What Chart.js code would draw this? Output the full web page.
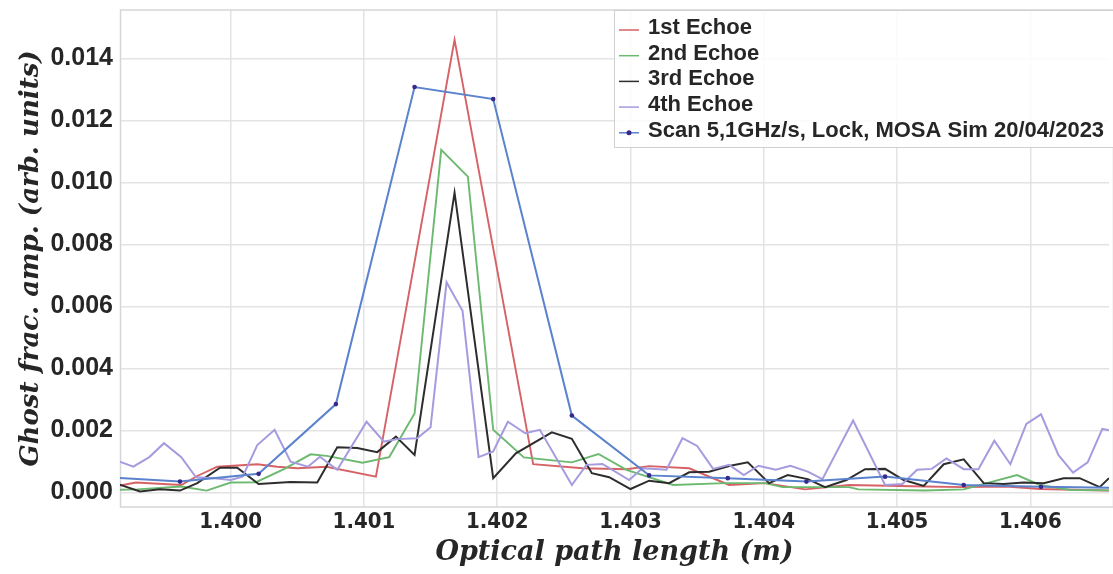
<!DOCTYPE html>
<html>
<head>
<meta charset="utf-8">
<script src="https://cdn.jsdelivr.net/npm/chart.js@4.4.1/dist/chart.umd.min.js"></script>
<style>
html,body{margin:0;padding:0;background:#fff}
#wrap{width:1113px;height:574px}
</style>
</head>
<body>
<div id="wrap"><canvas id="ghostChart" width="1113" height="574"></canvas></div>
<script>
// optical path length (m) / ghost amplitude
const echo1X=[1.39910,1.39929,1.39963,1.39975,1.39990,1.40020,1.40035,1.40050,1.40072,1.40109,1.40168,1.40227,1.40264,1.40297,1.40314,1.40344,1.40374,1.40401,1.40431,1.40464,1.40521,1.40550,1.40582,1.40607,1.40657,1.40670]
const echo1Y=[0.00017,0.00032,0.00024,0.00053,0.00083,0.00091,0.00083,0.00078,0.00083,0.00051,0.01460,0.00091,0.00078,0.00075,0.00085,0.00078,0.00024,0.00030,0.00010,0.00024,0.00019,0.00017,0.00019,0.00011,0.00006,0.00005]

const echo2X=[1.39910,1.39930,1.39963,1.39982,1.40000,1.40019,1.40040,1.40060,1.40072,1.40099,1.40119,1.40138,1.40158,1.40178,1.40197,1.40220,1.40256,1.40276,1.40297,1.40332,1.40371,1.40401,1.40414,1.40464,1.40471,1.40521,1.40550,1.40590,1.40607,1.40630,1.40670]
const echo2Y=[0.00008,0.00010,0.00019,0.00006,0.00032,0.00033,0.00075,0.00123,0.00118,0.00096,0.00114,0.00255,0.01105,0.01019,0.00202,0.00113,0.00097,0.00124,0.00073,0.00024,0.00030,0.00030,0.00017,0.00017,0.00010,0.00006,0.00010,0.00056,0.00024,0.00008,0.00006]

const echo3X=[1.39910,1.39932,1.39947,1.39962,1.39975,1.39992,1.40005,1.40021,1.40045,1.40065,1.40080,1.40095,1.40110,1.40124,1.40138,1.40168,1.40197,1.40214,1.40241,1.40256,1.40271,1.40284,1.40300,1.40314,1.40329,1.40344,1.40359,1.40374,1.40388,1.40404,1.40418,1.40433,1.40446,1.40462,1.40476,1.40491,1.40505,1.40520,1.40535,1.40550,1.40565,1.40580,1.40595,1.40610,1.40625,1.40637,1.40652,1.40659]
const echo3Y=[0.00035,0.00003,0.00010,0.00006,0.00030,0.00080,0.00080,0.00027,0.00034,0.00032,0.00146,0.00143,0.00130,0.00180,0.00121,0.00967,0.00046,0.00126,0.00194,0.00173,0.00062,0.00049,0.00011,0.00038,0.00030,0.00065,0.00067,0.00085,0.00097,0.00030,0.00056,0.00043,0.00017,0.00040,0.00075,0.00076,0.00040,0.00021,0.00091,0.00107,0.00030,0.00027,0.00032,0.00030,0.00046,0.00046,0.00017,0.00046]

const echo4X=[1.39910,1.39927,1.39939,1.39950,1.39963,1.39974,1.39988,1.40000,1.40009,1.40020,1.40033,1.40045,1.40058,1.40067,1.40080,1.40102,1.40115,1.40125,1.40140,1.40150,1.40162,1.40174,1.40186,1.40197,1.40208,1.40221,1.40232,1.40256,1.40267,1.40279,1.40299,1.40309,1.40327,1.40339,1.40350,1.40362,1.40374,1.40385,1.40396,1.40409,1.40420,1.40433,1.40444,1.40467,1.40491,1.40504,1.40515,1.40526,1.40537,1.40550,1.40561,1.40573,1.40585,1.40597,1.40608,1.40621,1.40632,1.40643,1.40654,1.40666]
const echo4Y=[0.00110,0.00083,0.00114,0.00159,0.00114,0.00049,0.00046,0.00040,0.00051,0.00153,0.00202,0.00099,0.00083,0.00115,0.00073,0.00228,0.00164,0.00172,0.00175,0.00210,0.00678,0.00586,0.00114,0.00132,0.00228,0.00191,0.00202,0.00024,0.00089,0.00092,0.00040,0.00078,0.00073,0.00175,0.00150,0.00076,0.00089,0.00056,0.00086,0.00073,0.00086,0.00067,0.00043,0.00232,0.00024,0.00027,0.00073,0.00076,0.00110,0.00075,0.00075,0.00167,0.00091,0.00221,0.00252,0.00121,0.00064,0.00097,0.00205,0.00195]

const scanX=[1.39903,1.39962,1.40021,1.40079,1.40138,1.40197,1.40256,1.40314,1.40373,1.40432,1.40491,1.40550,1.40608,1.40667]
const scanY=[0.00050,0.00035,0.00060,0.00285,0.01308,0.01269,0.00248,0.00055,0.00046,0.00035,0.00051,0.00024,0.00018,0.00015]

const seriesLabels=['1st Echoe','2nd Echoe','3rd Echoe','4th Echoe','Scan 5,1GHz/s, Lock, MOSA Sim 20/04/2023']
const xTicks=[1.400,1.401,1.402,1.403,1.404,1.405,1.406]
const yTicks=[0,0.002,0.004,0.006,0.008,0.010,0.012,0.014]

function pts(xs,ys){ return xs.map((x,i)=>({x:x,y:ys[i]})) }

// frame round the plot + legend box in the top right corner
const framePlugin={
 id:'frame',
 beforeDatasetsDraw(chart){
  const a=chart.chartArea, c=chart.ctx
  c.save()
  c.strokeStyle='#d6d6d6'; c.lineWidth=1.5
  c.strokeRect(a.left+0.5,a.top,a.right-a.left+4,a.bottom-a.top)
  c.restore()
 },
 afterDraw(chart){
  const c=chart.ctx
  const bx=614, by=10, rowH=25.7
  c.save()
  c.fillStyle='rgba(255,255,255,0.85)'
  c.strokeStyle='#d0d0d0'; c.lineWidth=1
  c.fillRect(bx,by,520,138)
  c.strokeRect(bx+0.5,by+0.5,520,137)
  c.font='bold 22px "Liberation Sans", Arial, sans-serif'
  c.textBaseline='middle'
  chart.data.datasets.forEach((ds,i)=>{
   const y=by+18+i*rowH
   c.strokeStyle=ds.borderColor; c.lineWidth=1.5
   c.beginPath(); c.moveTo(bx+5,y+2); c.lineTo(bx+25,y+2); c.stroke()
   if(ds.pointRadius>0){
    c.fillStyle=ds.pointBackgroundColor
    c.beginPath(); c.arc(bx+15,y+2,2.5,0,Math.PI*2); c.fill()
   }
   c.fillStyle='#262626'
   c.fillText(ds.label,bx+34,y)
  })
  c.restore()
 }
}

const ctx=document.getElementById('ghostChart')
new Chart(ctx,{
 type:'scatter',
 data:{
  datasets:[
   {label:seriesLabels[0],data:pts(echo1X,echo1Y),borderColor:'rgb(214,98,102)',borderWidth:1.9,showLine:true,pointRadius:0,order:5},
   {label:seriesLabels[1],data:pts(echo2X,echo2Y),borderColor:'rgb(108,185,112)',borderWidth:1.9,showLine:true,pointRadius:0,order:4},
   {label:seriesLabels[2],data:pts(echo3X,echo3Y),borderColor:'rgb(45,45,45)',borderWidth:2,showLine:true,pointRadius:0,order:3},
   {label:seriesLabels[3],data:pts(echo4X,echo4Y),borderColor:'rgb(165,155,222)',borderWidth:2,showLine:true,pointRadius:0,order:2},
   {label:seriesLabels[4],data:pts(scanX,scanY),borderColor:'rgb(90,130,205)',borderWidth:2,showLine:true,pointRadius:2.3,pointBackgroundColor:'rgb(55,40,140)',pointBorderWidth:0,order:1}
  ]
 },
 plugins:[framePlugin],
 options:{
  responsive:false,
  animation:false,
  devicePixelRatio:1,
  layout:{padding:{top:10,right:0,left:0,bottom:0}},
  plugins:{legend:{display:false},tooltip:{enabled:false}},
  scales:{
   x:{
    type:'linear',min:1.39917,max:1.40659,
    afterBuildTicks(s){ s.ticks=xTicks.map(v=>({value:v})) },
    afterFit(s){ s.height=67; s.paddingLeft=0; s.paddingRight=0 },
    grid:{color:'#e3e3e3',lineWidth:1.5,drawTicks:false},
    border:{display:false},
    ticks:{padding:2,color:'#262626',font:{family:'"DejaVu Sans Condensed", "DejaVu Sans", sans-serif',weight:'bold',size:22},callback:v=>v.toFixed(3)},
    title:{display:true,text:'Optical path length (m)',color:'#262626',padding:{top:0,bottom:5},font:{family:'"DejaVu Serif", serif',style:'italic',weight:'bold',size:27}}
   },
   y:{
    type:'linear',min:-0.00047,max:0.015565,
    afterBuildTicks(s){ s.ticks=yTicks.map(v=>({value:v})) },
    afterFit(s){ s.width=120; s.paddingTop=0; s.paddingBottom=0 },
    grid:{color:'#e3e3e3',lineWidth:1.5,drawTicks:false},
    border:{display:false},
    ticks:{padding:7,color:'#262626',font:{family:'"Liberation Sans", Arial',weight:'bold',size:25},callback:v=>v.toFixed(3)},
    title:{display:true,text:'Ghost frac. amp. (arb. units)',color:'#262626',padding:{top:16,bottom:0},font:{family:'"DejaVu Serif", serif',style:'italic',weight:'bold',size:26}}
   }
  }
 }
})
</script>
</body>
</html>
